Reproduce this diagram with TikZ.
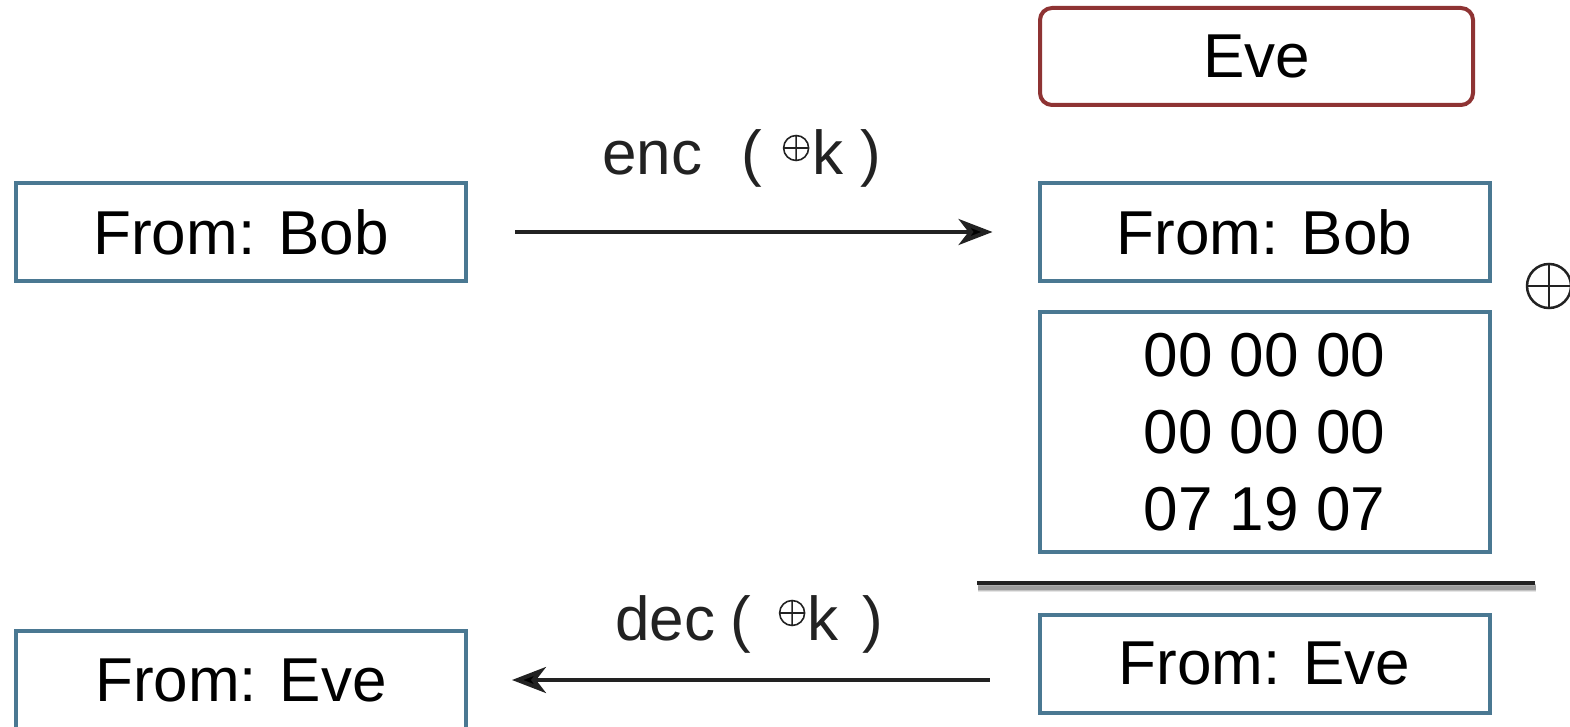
\documentclass[tikz,border=0pt]{standalone}
\usepackage{fontspec}
\setmainfont{Liberation Sans}
\usetikzlibrary{arrows.meta}
\definecolor{boxblue}{HTML}{4A7892}
\definecolor{evered}{HTML}{8E3333}
\definecolor{ink}{HTML}{222222}
\newcommand{\smalloplus}{\tikz[baseline={(0pt,-27pt)}]{\draw[line width=1.6pt,ink] (0pt,0pt) circle (12.5pt) (-12.5pt,0pt) -- (12.5pt,0pt) (0pt,-12.5pt) -- (0pt,12.5pt);}}
\begin{document}
\begin{tikzpicture}[x=1pt,y=-1pt,
  msg/.style={draw=boxblue,line width=4pt,minimum width=450pt,minimum height=98pt,inner sep=0pt,font=\fontsize{62}{77}\selectfont},
  evebox/.style={draw=evered,line width=4pt,rounded corners=12pt,minimum width=433pt,minimum height=97pt,inner sep=0pt,font=\fontsize{62}{77}\selectfont},
  lbl/.style={font=\fontsize{62}{72}\selectfont,text=ink,inner sep=0pt},
  xorsym/.style={circle,draw=ink,line width=2.5pt,minimum size=44pt,inner sep=0pt},
  arr/.style={draw=ink,line width=4pt,-{Stealth[length=34pt,width=26pt,inset=10pt]}}]
\useasboundingbox (0,0) rectangle (1570,727);
\node[evebox] (eve) at (1256.5,56.5) {Eve};
\node[msg] (bobL) at (241,232) {From: Bob};
\node[msg] (bobR) at (1264.5,232) {From: Bob};
\node[msg,minimum height=240pt,align=center] (data) at (1264.5,432) {00 00 00\\00 00 00\\07 19 07};
\node[msg] (eveL) at (241,680) {From: Eve};
\node[msg] (eveR) at (1264.5,663.5) {From: Eve};
\node[xorsym] (xor) at (1549,286) {};
\draw[ink,line width=2.5pt] (xor.west) -- (xor.east) (xor.north) -- (xor.south);
\node[lbl,anchor=base west] (enc) at (602,175) {enc\hspace{39pt}(\hspace{21pt}\smalloplus\hspace{3pt}k\hspace{17pt})};
\node[lbl,anchor=base west] (dec) at (615,640) {dec\hspace{15pt}(\hspace{28pt}\smalloplus\hspace{2pt}k\hspace{24pt})};
\draw[arr,shorten <=47pt,shorten >=45pt] (bobL) -- (bobR);
\draw[arr,shorten <=48pt,shorten >=44pt] (eveR.west |- eveL) -- (eveL);
% horizontal rule with soft shadow
\foreach \o/\op in {6/0.10,5/0.15,4/0.2}{
  \draw[line width=6pt,black,opacity=\op] (978,583+\o) -- (1536,583+\o);
}
\draw[line width=4pt,ink] (977,583) -- (1535,583);
\end{tikzpicture}
\end{document}
